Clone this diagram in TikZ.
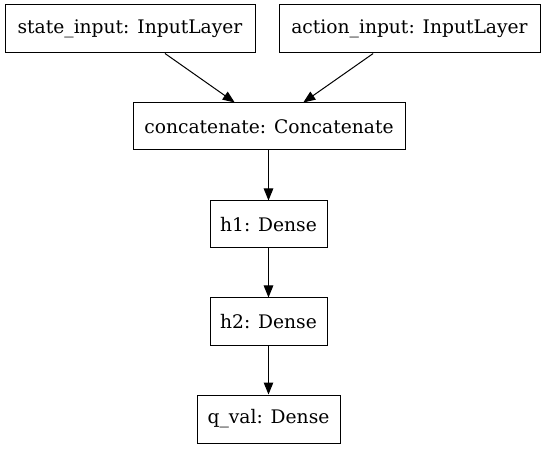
\documentclass[tikz,border=0pt]{standalone}
\usepackage{fontspec}
\setmainfont{DejaVu Serif}
\usetikzlibrary{arrows.meta}
\tikzstyle{layer}=[draw, line width=1pt, inner sep=0pt, minimum height=48pt, font=\fontsize{18.67}{22}\selectfont]
\tikzstyle{flow}=[line width=1pt, -{Triangle[length=12pt,width=9.5pt]}]

\begin{document}
\begin{tikzpicture}[x=1pt,y=-1pt]
	\useasboundingbox (0,0) rectangle (544,449);
	% inputs
	\node[layer, minimum width=250pt] (state) at (130,29) {state\_input: InputLayer};
	\node[layer, minimum width=261pt] (action) at (409.5,29) {action\_input: InputLayer};
	% merge
	\node[layer, minimum width=272pt, minimum height=47pt] (concat) at (269,126.5) {concatenate: Concatenate};
	% dense stack
	\node[layer, minimum width=117pt, minimum height=47pt] (h1) at (268.5,224.5) {h1: Dense};
	\node[layer, minimum width=117pt] (h2) at (268.5,322) {h2: Dense};
	\node[layer, minimum width=143pt] (qval) at (268.5,419) {q\_val: Dense};
	% edges
	\draw[flow] (state.-35) -- (concat.145);
	\draw[flow] (action.-146) -- (concat.35);
	\draw[flow] (concat.south -| h1) -- (h1);
	\draw[flow] (h1) -- (h2);
	\draw[flow] (h2) -- (qval);
\end{tikzpicture}
\end{document}
